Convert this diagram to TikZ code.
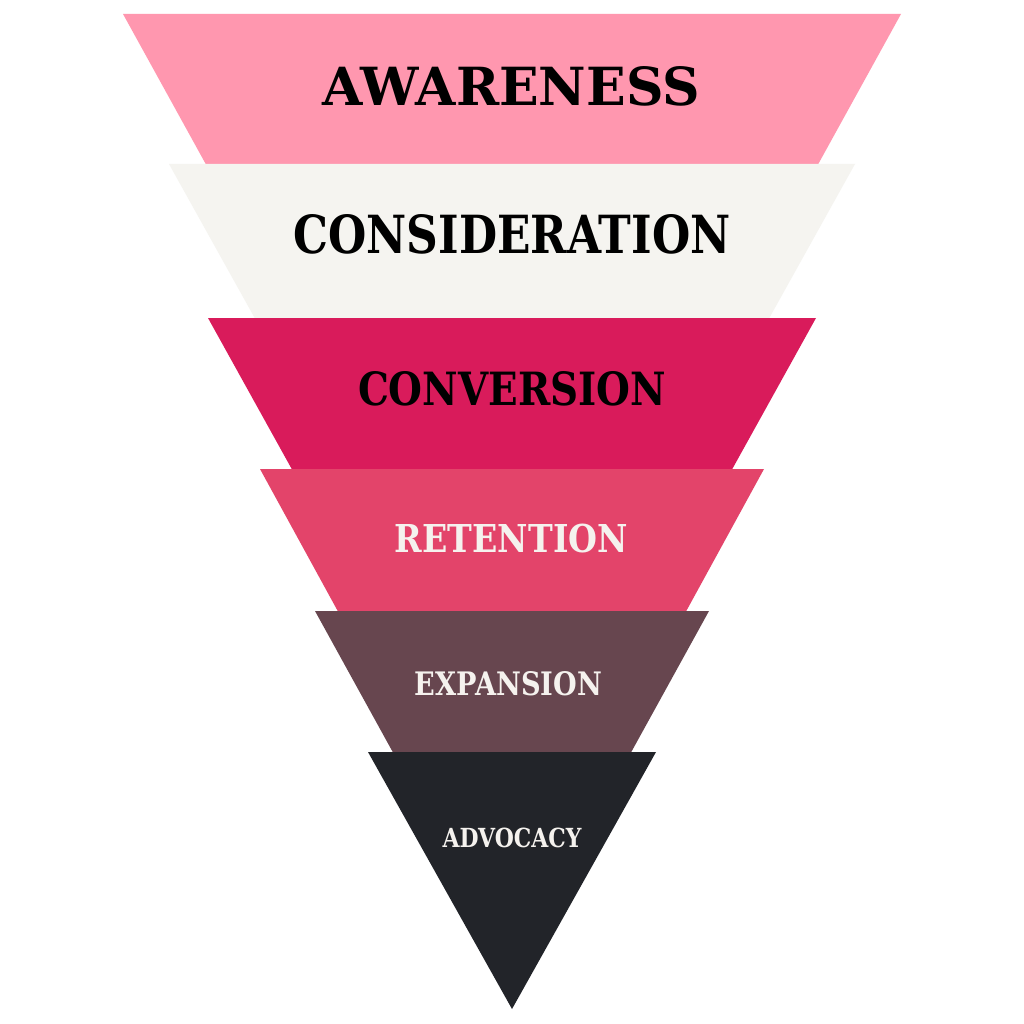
\documentclass[tikz,border=0pt]{standalone}
\usepackage{fontspec}
\setmainfont{DejaVu Serif}
\usepackage{graphicx}

\definecolor{awarepink}{HTML}{FF97AF}
\definecolor{considwhite}{HTML}{F5F4F0}
\definecolor{convcrimson}{HTML}{D91B5B}
\definecolor{retrose}{HTML}{E3446A}
\definecolor{expmauve}{HTML}{67464F}
\definecolor{advdark}{HTML}{222429}
\definecolor{lighttext}{HTML}{F5F2EE}

% stage label squeezed to a given width and cap height
\newcommand{\stagelabel}[3]{\resizebox{#1pt}{#2pt}{\bfseries #3}}

\begin{document}
\begin{tikzpicture}[x=1pt,y=-1pt]
	\tikzstyle{every node}=[inner sep=0pt,anchor=center]
	\useasboundingbox [fill=white] (0,0) rectangle (1024,1024);
	
	\fill [awarepink] (123,14) -- (901,14) -- (818,164.5) -- (206,164.5) -- cycle;
	\fill [considwhite] (169,164) -- (855,164) -- (769,318.5) -- (255,318.5) -- cycle;
	\fill [convcrimson] (208,318) -- (816,318) -- (732,469.5) -- (292,469.5) -- cycle;
	\fill [retrose] (260,469) -- (764,469) -- (686,611.5) -- (338,611.5) -- cycle;
	\fill [expmauve] (315,611) -- (709,611) -- (631,752.5) -- (393,752.5) -- cycle;
	\fill [advdark] (368,752) -- (656,752) -- (512,1009) -- cycle;
	
	\node (awareness) at (511.5,86) {\stagelabel{377}{39}{AWARENESS}};
	\node (consideration) at (512,234) {\stagelabel{437}{39}{CONSIDERATION}};
	\node (conversion) at (512,388.5) {\stagelabel{308}{34}{CONVERSION}};
	\node (retention) [text=lighttext] at (511.5,539) {\stagelabel{233}{28.5}{RETENTION}};
	\node (expansion) [text=lighttext] at (508.5,684) {\stagelabel{187}{24}{EXPANSION}};
	\node (advocacy) [text=lighttext] at (512,837.5) {\stagelabel{139}{19.5}{ADVOCACY}};
	
\end{tikzpicture}
\end{document}
